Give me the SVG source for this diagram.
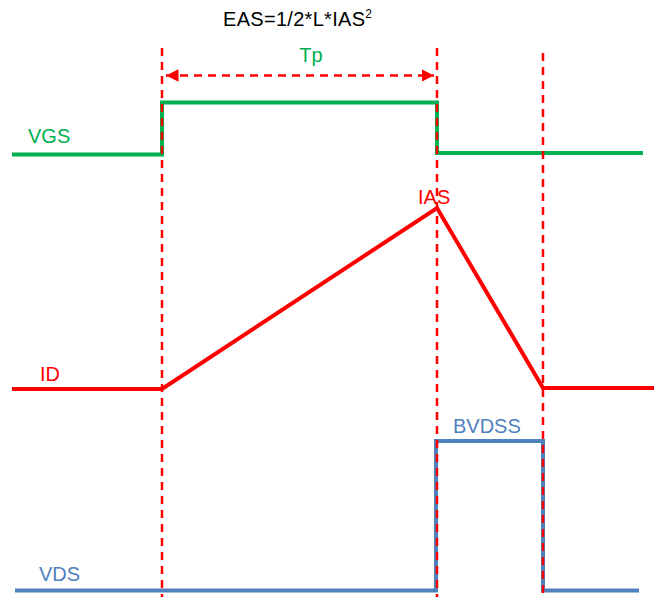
<svg xmlns="http://www.w3.org/2000/svg" width="662" height="597" viewBox="0 0 662 597">
<style>
.t{font-family:"Liberation Sans",Arial,sans-serif;font-size:20px}
.dash{stroke:#ff0000;stroke-width:2.5;stroke-dasharray:8 6;fill:none}
.vgs{stroke:#00b050;stroke-width:4;fill:none}
.id{stroke:#ff0000;stroke-width:4;fill:none}
.vds{stroke:#4f81bd;stroke-width:4;fill:none}
</style>
<defs>
<marker id="ah" viewBox="0 0 10 10" refX="10" refY="5" markerWidth="5" markerHeight="5" orient="auto-start-reverse" markerUnits="strokeWidth">
<path d="M0,0 L10,5 L0,10 z" fill="#ff0000"/>
</marker>
</defs>
<rect width="662" height="597" fill="#fff"/>
<g id="signals">
<path class="vgs" d="M12,154.5 H162 V102.5 H437 V153 H643"/>
<path class="id" d="M12,389 H162 L437,208 L543,388 H654"/>
<path class="vds" d="M15,590.5 H436 V441 H543 V590.5 H639"/>
</g>
<g id="connectors">
<line class="dash" x1="162" y1="48" x2="162" y2="597"/>
<line class="dash" x1="437" y1="48" x2="437" y2="597"/>
<line class="dash" x1="543" y1="53" x2="543" y2="597"/>
<line class="dash" x1="166" y1="75.5" x2="434" y2="75.5" marker-start="url(#ah)" marker-end="url(#ah)"/>
</g>
<g id="labels">
<text class="t" x="223" y="26" font-size="20" letter-spacing="0.3">EAS=1/2*L*IAS<tspan font-size="12" dy="-8">2</tspan></text>
<text class="t" x="311" y="62" fill="#00b050" text-anchor="middle" font-size="21">Tp</text>
<text class="t" x="28" y="143" fill="#00b050">VGS</text>
<text class="t" x="40" y="381" fill="#ff0000">ID</text>
<text class="t" x="418" y="204" fill="#ff0000">IAS</text>
<text class="t" x="453" y="433" fill="#4f81bd">BVDSS</text>
<text class="t" x="39" y="581" fill="#4f81bd">VDS</text>
</g>
</svg>
